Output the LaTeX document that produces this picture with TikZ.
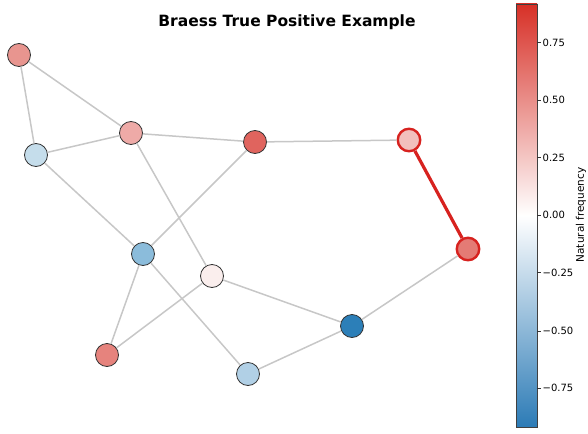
\documentclass[tikz,border=0pt]{standalone}
\usepackage{fontspec}
\setmainfont{DejaVu Sans}
\begin{document}
\begin{tikzpicture}[x=1pt,y=-1pt,
  nd/.style={circle,draw=black!80,line width=0.8pt,minimum size=23pt,inner sep=0pt},
  hl/.style={nd,draw=hlred,line width=2.4pt,minimum size=22.5pt},
  edge/.style={draw=black!22,line width=1.5pt},
  hledge/.style={draw=hlred,line width=3.2pt},
  tick/.style={font=\fontsize{10}{12}\selectfont,anchor=west,inner sep=0pt}]
\definecolor{hlred}{HTML}{D7221F}
\definecolor{cA}{HTML}{E8958F}
\definecolor{cB}{HTML}{C5DDEB}
\definecolor{cC}{HTML}{EEAAA7}
\definecolor{cD}{HTML}{E0645E}
\definecolor{cE}{HTML}{F2BFBD}
\definecolor{cF}{HTML}{E47B75}
\definecolor{cG}{HTML}{8BBCDB}
\definecolor{cH}{HTML}{FAEEED}
\definecolor{cI}{HTML}{E6837D}
\definecolor{cJ}{HTML}{B1D0E6}
\definecolor{cK}{HTML}{2C7FB8}
\definecolor{cbtop}{HTML}{D73027}
\definecolor{cbbot}{HTML}{2C7BB6}
\useasboundingbox (0,0) rectangle (588,433);
% nodes
\node[nd,fill=cA] (A) at (19,55) {};
\node[nd,fill=cB] (B) at (36,155) {};
\node[nd,fill=cC] (C) at (131,133) {};
\node[nd,fill=cD] (D) at (255,142) {};
\node[hl,fill=cE] (E) at (409,140) {};
\node[hl,fill=cF] (F) at (468,249) {};
\node[nd,fill=cG] (G) at (143,254) {};
\node[nd,fill=cH] (H) at (212,276) {};
\node[nd,fill=cI] (I) at (107,355) {};
\node[nd,fill=cJ] (J) at (248,374) {};
\node[nd,fill=cK] (K) at (352,326) {};
% edges
\path[edge] (A) -- (C) (A) -- (B) (B) -- (C) (C) -- (D) (D) -- (E)
  (B) -- (G) (G) -- (D) (C) -- (H) (G) -- (I) (I) -- (H) (G) -- (J)
  (H) -- (K) (J) -- (K) (K) -- (F);
\path[hledge] (E) -- (F);
% title
\node[font=\fontsize{15.5}{18}\selectfont\bfseries] (title) at (287,22) {Braess True Positive Example};
% colorbar
\shade[top color=cbtop,bottom color=cbbot,middle color=white] (516,4) rectangle (537,427);
\draw[black!75,line width=0.7pt] (516,4) rectangle (537,427);
\foreach \y/\t in {42.7/0.75,100/0.50,157.7/0.25,215/0.00,272.7/−0.25,331/−0.50,388/−0.75}{
  \draw[black!80,line width=0.7pt] (537,\y) -- (540.5,\y);
  \node[tick] at (542.5,\y) {\t};
}
\node[rotate=90,font=\fontsize{10.5}{12}\selectfont] (cblabel) at (581,215) {Natural frequency};
\end{tikzpicture}
\end{document}
